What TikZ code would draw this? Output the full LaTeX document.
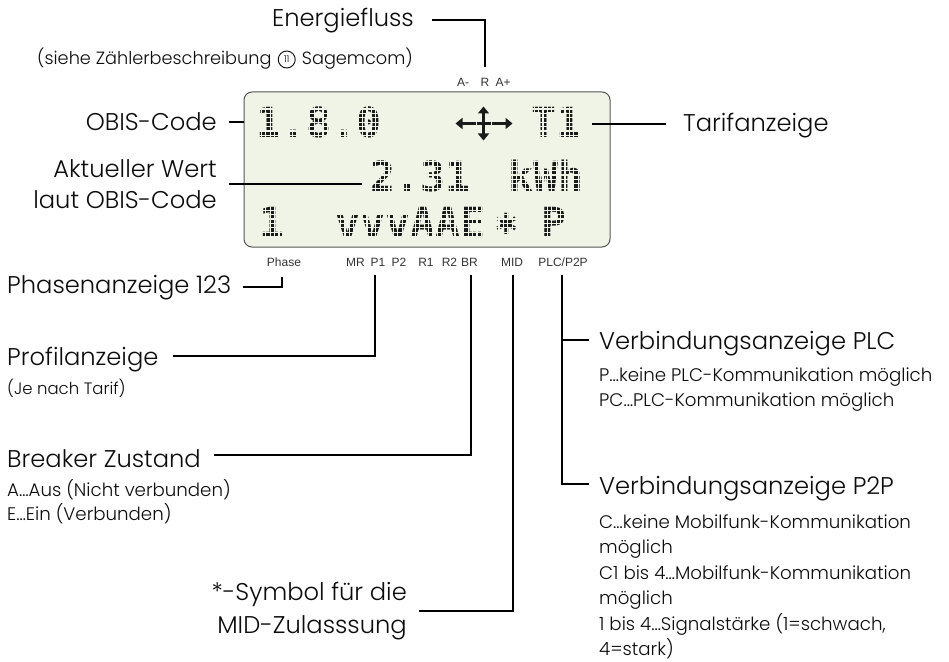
\documentclass[tikz,border=0pt]{standalone}
\usepackage{fontspec}
\IfFontExistsTF{Poppins Light}{\setmainfont{Poppins Light}}{\setmainfont{Poppins}}
\newfontfamily\lcdfont{DejaVu Sans Mono}
\newfontfamily\symfont{DejaVu Sans}
\newfontfamily\tagfont{Liberation Sans}
\usetikzlibrary{calc,arrows.meta}
\definecolor{lcdbg}{HTML}{EFF4E6}
\definecolor{lcdink}{HTML}{1A1A1A}
\definecolor{lcdframe}{HTML}{555555}
\definecolor{taggray}{HTML}{333333}
\definecolor{inktext}{HTML}{0C0C0C}
\tikzset{
  big/.style={inner sep=0, text=inktext, font=\fontsize{24.2bp}{31bp}\selectfont},
  mid2/.style={inner sep=0, text=inktext, font=\fontsize{24.2bp}{33bp}\selectfont},
  small/.style={inner sep=0, text=inktext, font=\fontsize{18.2bp}{22bp}\selectfont},
  note/.style={inner sep=0, text=inktext, font=\fontsize{17.7bp}{22bp}\selectfont},
  tiny/.style={inner sep=0, text=inktext, font=\fontsize{16.5bp}{20bp}\selectfont},
  lcd/.style={inner sep=0, text=lcdink, font=\lcdfont\bfseries\fontsize{41.5bp}{42bp}\selectfont},
  tag/.style={inner sep=0, text=taggray, font=\tagfont\fontsize{12bp}{13bp}\selectfont},
  conn/.style={draw=black, line width=1.6bp},
  lcdarrow/.style={draw=lcdink, line width=3.4bp, -{Triangle[length=7bp,width=11bp]}},
}
\begin{document}
\begin{tikzpicture}[x=1bp,y=-1bp]
\useasboundingbox (0,0) rectangle (949,662);

% ---------- display ----------
\node[draw=lcdframe, fill=lcdbg, rounded corners=8bp, line width=1bp,
      minimum width=366bp, minimum height=155bp, inner sep=0] (lcd) at (427,169.5) {};

\node[lcd, anchor=base west] (r1a) at (256,138) {1.8.0};
\node[lcd, anchor=base west] (r1t) at (531,138) {T1};
\node[lcd, anchor=base west] (r2a) at (370,191) {2.31};
\node[lcd, anchor=base west] (r2b) at (508,191) {kWh};
\node[lcd, anchor=base west] (r3a) at (259,237) {1};
\node[lcd, anchor=base west] (r3b) at (335,237) {vvvAAE};
\node[inner sep=0, text=lcdink, font=\symfont\bfseries\fontsize{34bp}{34bp}\selectfont] (r3s) at (507,224) {∗};
\node[lcd, anchor=base west] (r3p) at (541,237) {P};

% dot-matrix raster over the display characters
\begin{scope}
  \clip[rounded corners=8bp] (245,93) rectangle (609,246);
  \foreach \gx in {248.2,252.6,...,610} \draw[lcdbg, line width=1.2bp] (\gx,93) -- (\gx,246);
  \foreach \gy in {95.8,100.2,...,246} \draw[lcdbg, line width=1.2bp] (245,\gy) -- (609,\gy);
\end{scope}

% energy flow pictogram
\coordinate (ef) at (483.5,123.5);
\draw[lcdarrow] ($(ef)+(-8,0)$) -- ($(ef)+(-28,0)$);
\draw[lcdarrow] ($(ef)+(8,0)$) -- ($(ef)+(29,0)$);
\draw[lcdarrow, {Triangle[length=7bp,width=11bp]}-{Triangle[length=7bp,width=11bp]}] ($(ef)+(0,-17)$) -- ($(ef)+(0,17)$);
\draw[draw=lcdink, line width=3.4bp] ($(ef)+(-7,0)$) -- ($(ef)+(7,0)$);

% ---------- small tags around display ----------
\node[tag, anchor=base] (tAm) at (463,87) {A-};
\node[tag, anchor=base] (tR)  at (485,87) {R};
\node[tag, anchor=base] (tAp) at (503,87) {A+};

\node[tag, anchor=base] (tPhase) at (284,266.5) {Phase};
\node[tag, anchor=base] (tMR)  at (355.5,266.5) {MR};
\node[tag, anchor=base] (tP1)  at (378,266.5) {P1};
\node[tag, anchor=base] (tP2)  at (399,266.5) {P2};
\node[tag, anchor=base] (tR1)  at (426,266.5) {R1};
\node[tag, anchor=base] (tR2)  at (449.5,266.5) {R2};
\node[tag, anchor=base] (tBR)  at (469.5,266.5) {BR};
\node[tag, anchor=base] (tMID) at (512,266.5) {MID};
\node[tag, anchor=base] (tPLC) at (563,266.5) {PLC/P2P};

% ---------- labels ----------
\node[big, anchor=base east] (energie) at (414,27) {Energiefluss};
\node[note, anchor=base east] (siehe2) at (413,65) {Sagemcom)};
\node[draw=inktext, circle, line width=0.9bp, minimum size=17bp, inner sep=0,
      text=inktext, font=\fontsize{9.5bp}{9.5bp}\selectfont]
      (circ) at ($(siehe2.base west)+(-15,-5.5)$) {11};
\node[note, anchor=base east] (siehe1) at ($(siehe2.base west)+(-30,0)$) {(siehe Zählerbeschreibung};

\node[big, anchor=base east] (obis) at (217,131) {OBIS-Code};
\node[big, anchor=east, align=right] (akt) at (217,184) {Aktueller Wert\\laut OBIS-Code};
\node[big, anchor=base west] (tarif) at (683,132) {Tarifanzeige};
\node[big, anchor=base west] (phasen) at (7,293) {Phasenanzeige 123};

\node[big, anchor=base west] (profil) at (7,365) {Profilanzeige};
\node[tiny, anchor=base west] (profilN) at (7,394) {(Je nach Tarif)};

\node[big, anchor=base west] (breaker) at (7,467) {Breaker Zustand};
\node[small, anchor=base west] (breakA) at (7,496) {A…Aus (Nicht verbunden)};
\node[small, anchor=base west] (breakE) at (7,520) {E…Ein (Verbunden)};

\node[mid2, anchor=east, align=right] (mid) at (407,611) {*-Symbol für die\\MID-Zulasssung};

\node[big, anchor=base west] (plc) at (599,349) {Verbindungsanzeige PLC};
\node[small, anchor=base west] (plc1) at (599,381) {P…keine PLC-Kommunikation möglich};
\node[small, anchor=base west] (plc2) at (599,406) {PC…PLC-Kommunikation möglich};

\node[big, anchor=base west] (p2p) at (599,494) {Verbindungsanzeige P2P};
\node[small, anchor=base west] (p2p1) at (599,528) {C…keine Mobilfunk-Kommunikation};
\node[small, anchor=base west] (p2p2) at (599,553.5) {möglich};
\node[small, anchor=base west] (p2p3) at (599,579) {C1 bis 4…Mobilfunk-Kommunikation};
\node[small, anchor=base west] (p2p4) at (599,604.5) {möglich};
\node[small, anchor=base west] (p2p5) at (599,630) {1 bis 4…Signalstärke (1=schwach,};
\node[small, anchor=base west] (p2p6) at (599,655.5) {4=stark)};

% ---------- connectors ----------
\draw[conn] ($(energie.east)+(18,-1)$) -| ($(tR.north)+(0,-12)$);
\draw[conn] ($(obis.east)+(12,0)$) -- (obis.east -| lcd.west);
\draw[conn] ($(akt.east)+(12,0)$) -- ($(akt.east -| r2a.west)+(-8,0)$);
\draw[conn] ($(tarif.west)+(-17,-2)$) -- ($(tarif.west -| r1t.east)+(11,-2)$);
\draw[conn] ($(phasen.east)+(12,0)$) -| ($(tPhase.south)+(-2,10.5)$);
\draw[conn] ($(profil.east)+(14,-3)$) -| ($(tP1.south)+(-3,8)$);
\draw[conn] ($(breaker.east)+(13,-3)$) -| ($(tBR.south)+(1.5,8)$);
\draw[conn] ($(mid.east)+(12,0)$) -| ($(tMID.south)+(1,8)$);
\draw[conn] ($(tPLC.south)+(-1,8)$) |- ($(plc.west)+(-10,-3)$);
\draw[conn] ($(tPLC.south)+(-1,8)$) |- ($(p2p.west)+(-10,-4)$);
\end{tikzpicture}
\end{document}
